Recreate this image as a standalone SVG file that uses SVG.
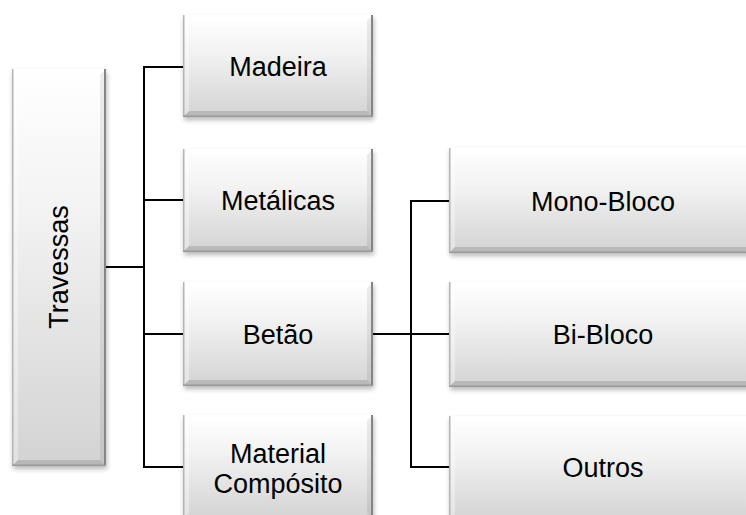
<svg xmlns="http://www.w3.org/2000/svg" width="746" height="515" viewBox="0 0 746 515">
<defs>
<linearGradient id="g" x1="0" y1="0" x2="0" y2="1">
<stop offset="0" stop-color="#ffffff"/>
<stop offset="0.35" stop-color="#f3f3f3"/>
<stop offset="1" stop-color="#d3d3d3"/>
</linearGradient>
<filter id="sh" x="-10%" y="-10%" width="120%" height="130%">
<feGaussianBlur stdDeviation="2.5"/>
</filter>
</defs>
<style>
.bg{fill:url(#g)}
.sd{fill:#000;opacity:.28;filter:url(#sh)}
.tb{fill:#fff;opacity:.75}
.lb{fill:#fff;opacity:.35}
.rb{fill:#000;opacity:.07}
.bb{fill:#000;opacity:.13}
.le{stroke:#b5b5b5;stroke-width:1.5;fill:none}
.re{stroke:#858585;stroke-width:2;fill:none}
.be{stroke:#9a9a9a;stroke-width:1.5;fill:none}
.c{stroke:#000;stroke-width:2;fill:none}
text{font-family:"Liberation Sans",Arial,sans-serif;font-size:27px;fill:#000;text-anchor:middle}
</style>

<g id="connectors">
<polyline class="c" points="106,267 144,267"/>
<polyline class="c" points="183,67 144,67 144,467 183,467"/>
<polyline class="c" points="144,200 183,200"/>
<polyline class="c" points="144,334 183,334"/>
<polyline class="c" points="373,334 411,334"/>
<polyline class="c" points="449,201 411,201 411,467 449,467"/>
<polyline class="c" points="411,334 449,334"/>
</g>

<g id="travessas">
<rect class="sd" x="13" y="72" width="94" height="397"/>
<rect class="bg" x="12" y="69" width="94" height="397"/>
<polygon class="tb" points="12,69 106,69 100,75 18,75"/>
<polygon class="lb" points="12,69 18,75 18,460 12,466"/>
<polygon class="rb" points="106,69 106,466 100,460 100,75"/>
<polygon class="bb" points="12,466 106,466 100,460 18,460"/>
<line class="le" x1="12.75" y1="69" x2="12.75" y2="466"/>
<line class="re" x1="105" y1="69" x2="105" y2="466"/>
<line class="be" x1="12" y1="465.25" x2="106" y2="465.25"/>
<text transform="translate(68,267) rotate(-90)">Travessas</text>
</g>

<g id="madeira">
<rect class="sd" x="184" y="18" width="190" height="102"/>
<rect class="bg" x="183" y="15" width="190" height="102"/>
<polygon class="tb" points="183,15 373,15 367,21 189,21"/>
<polygon class="lb" points="183,15 189,21 189,111 183,117"/>
<polygon class="rb" points="373,15 373,117 367,111 367,21"/>
<polygon class="bb" points="183,117 373,117 367,111 189,111"/>
<line class="le" x1="183.75" y1="15" x2="183.75" y2="117"/>
<line class="re" x1="372" y1="15" x2="372" y2="117"/>
<line class="be" x1="183" y1="116.25" x2="373" y2="116.25"/>
<text x="278" y="76">Madeira</text>
</g>

<g id="metalicas">
<rect class="sd" x="184" y="152" width="190" height="103"/>
<rect class="bg" x="183" y="149" width="190" height="103"/>
<polygon class="tb" points="183,149 373,149 367,155 189,155"/>
<polygon class="lb" points="183,149 189,155 189,246 183,252"/>
<polygon class="rb" points="373,149 373,252 367,246 367,155"/>
<polygon class="bb" points="183,252 373,252 367,246 189,246"/>
<line class="le" x1="183.75" y1="149" x2="183.75" y2="252"/>
<line class="re" x1="372" y1="149" x2="372" y2="252"/>
<line class="be" x1="183" y1="251.25" x2="373" y2="251.25"/>
<text x="278" y="210">Metálicas</text>
</g>

<g id="betao">
<rect class="sd" x="184" y="285" width="190" height="104"/>
<rect class="bg" x="183" y="282" width="190" height="104"/>
<polygon class="tb" points="183,282 373,282 367,288 189,288"/>
<polygon class="lb" points="183,282 189,288 189,380 183,386"/>
<polygon class="rb" points="373,282 373,386 367,380 367,288"/>
<polygon class="bb" points="183,386 373,386 367,380 189,380"/>
<line class="le" x1="183.75" y1="282" x2="183.75" y2="386"/>
<line class="re" x1="372" y1="282" x2="372" y2="386"/>
<line class="be" x1="183" y1="385.25" x2="373" y2="385.25"/>
<text x="278" y="344">Betão</text>
</g>

<g id="material">
<rect class="sd" x="184" y="418" width="190" height="104"/>
<rect class="bg" x="183" y="415" width="190" height="104"/>
<polygon class="tb" points="183,415 373,415 367,421 189,421"/>
<polygon class="lb" points="183,415 189,421 189,513 183,519"/>
<polygon class="rb" points="373,415 373,519 367,513 367,421"/>
<line class="le" x1="183.75" y1="415" x2="183.75" y2="519"/>
<line class="re" x1="372" y1="415" x2="372" y2="519"/>
<text x="278" y="463">Material</text>
<text x="278" y="493">Compósito</text>
</g>

<g id="monobloco">
<rect class="sd" x="450" y="151" width="310" height="105"/>
<rect class="bg" x="449" y="148" width="310" height="105"/>
<polygon class="tb" points="449,148 759,148 753,154 455,154"/>
<polygon class="lb" points="449,148 455,154 455,247 449,253"/>
<polygon class="bb" points="449,253 759,253 753,247 455,247"/>
<line class="le" x1="449.75" y1="148" x2="449.75" y2="253"/>
<line class="be" x1="449" y1="252.25" x2="759" y2="252.25"/>
<text x="603" y="211">Mono-Bloco</text>
</g>

<g id="bibloco">
<rect class="sd" x="450" y="285" width="310" height="105"/>
<rect class="bg" x="449" y="282" width="310" height="105"/>
<polygon class="tb" points="449,282 759,282 753,288 455,288"/>
<polygon class="lb" points="449,282 455,288 455,381 449,387"/>
<polygon class="bb" points="449,387 759,387 753,381 455,381"/>
<line class="le" x1="449.75" y1="282" x2="449.75" y2="387"/>
<line class="be" x1="449" y1="386.25" x2="759" y2="386.25"/>
<text x="603" y="344">Bi-Bloco</text>
</g>

<g id="outros">
<rect class="sd" x="450" y="419" width="310" height="105"/>
<rect class="bg" x="449" y="416" width="310" height="105"/>
<polygon class="tb" points="449,416 759,416 753,422 455,422"/>
<polygon class="lb" points="449,416 455,422 455,515 449,521"/>
<line class="le" x1="449.75" y1="416" x2="449.75" y2="521"/>
<text x="603" y="477">Outros</text>
</g>
</svg>
